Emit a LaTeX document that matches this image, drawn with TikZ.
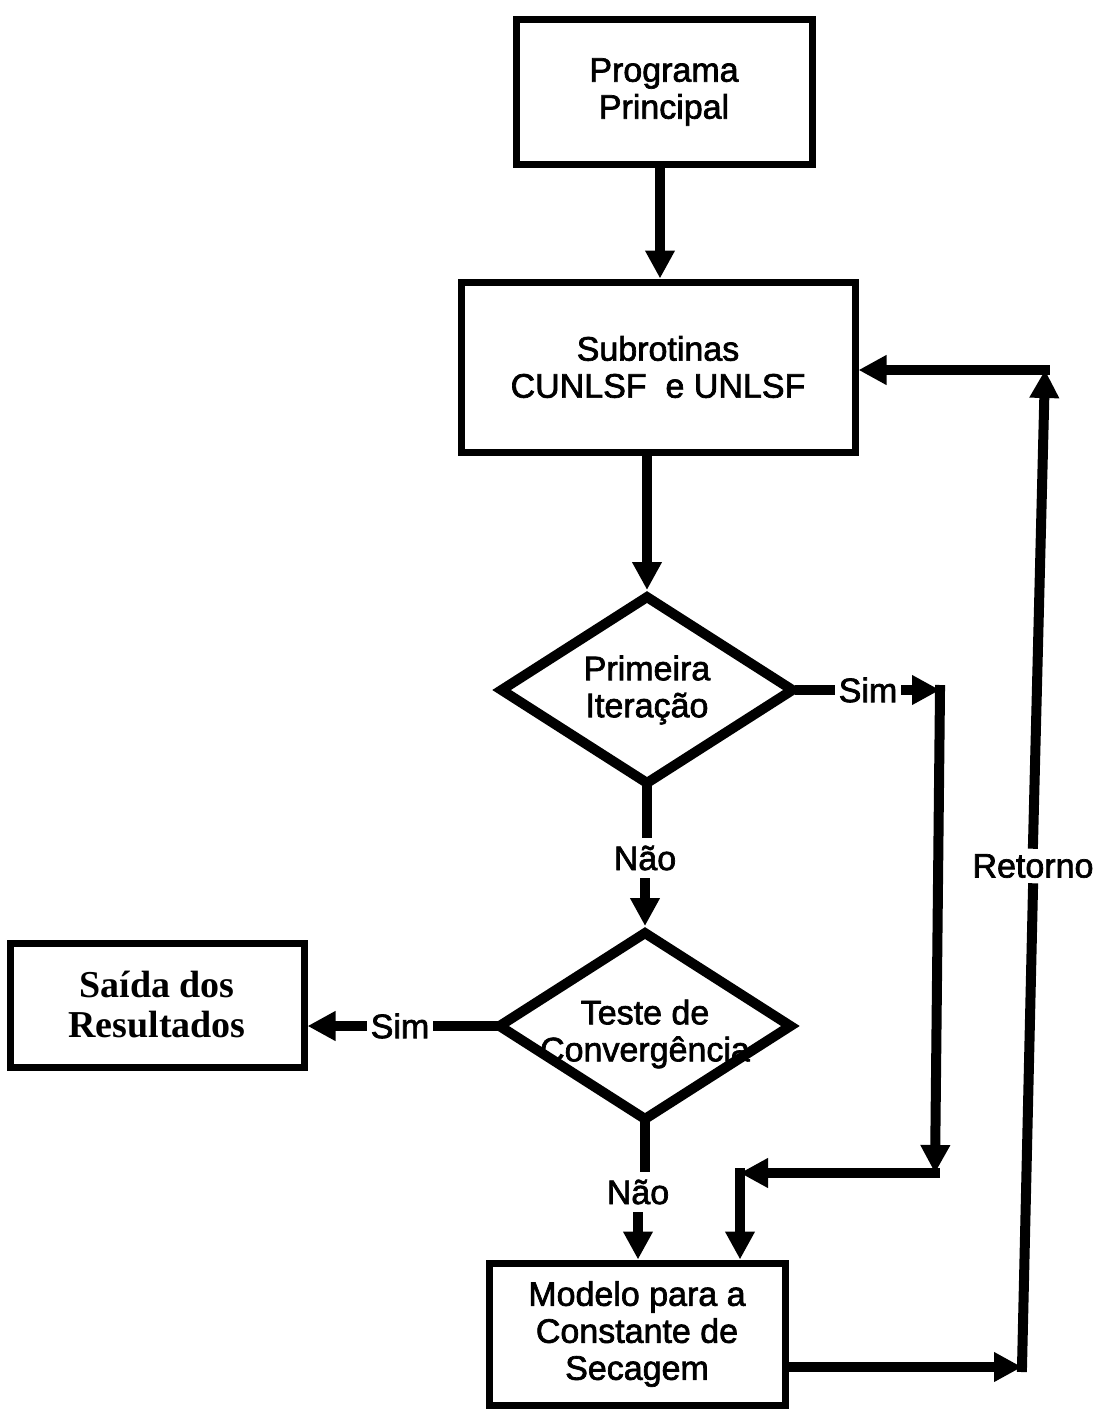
\documentclass[tikz,border=0pt]{standalone}
\usepackage{fontspec}
\setmainfont{Liberation Sans}[FakeBold=2]
\newfontfamily\timesfont{Liberation Serif}
\usetikzlibrary{arrows.meta,shapes.geometric}

\begin{document}
\begin{tikzpicture}[x=0.5pt,y=-0.5pt,
  lbl/.style={font=\fontsize{17}{18.5}\selectfont, align=center},
  box/.style={draw, line width=3.5pt, rectangle, inner sep=0pt, lbl},
  decision/.style={draw, line width=5pt, diamond, inner sep=0pt,
                   minimum width=147.5pt, minimum height=95pt},
  flow/.style={line width=5pt, line cap=rect},
  arr/.style={flow, -{Triangle[length=14pt,width=14pt]}},
  tag/.style={lbl, inner xsep=4pt, inner ysep=6pt},
]
\useasboundingbox (0,0) rectangle (1097,1413);

% process boxes
\node[box, minimum width=148pt, minimum height=72pt] (prog) at (664,92) {Programa\\Principal};
\node[box, minimum width=197pt, minimum height=85pt] (sub) at (658,367) {Subrotinas\\CUNLSF\ \ e UNLSF};
\node[box, minimum width=148pt, minimum height=71pt] (mod) at (637,1334) {Modelo para a\\Constante de\\Secagem};
\node[box, minimum width=147pt, minimum height=62pt,
      font=\timesfont\bfseries\fontsize{19}{20}\selectfont] (out) at (157,1005) {Saída dos\\Resultados};

% decisions
\node[decision] (d1) at (647,690) {};
\node[lbl] (d1txt) at (d1.center) {Primeira\\Iteração};
\node[decision] (d2) at (645,1026) {};
\node[lbl] (d2txt) at ([yshift=-4pt]d2.center) {Teste de\\Convergência};

% branch labels
\node[tag] (sim1) at (868,690) {Sim};
\node[tag] (nao1) at (645,858) {Não};
\node[tag] (sim2) at (400,1026) {Sim};
\node[tag] (nao2) at (638,1192) {Não};
\node[tag, fill=white, inner ysep=5pt] (ret) at (1033,866) {Retorno};

% bends of the return paths
\coordinate (c1) at (940,690);
\coordinate (c2) at (935,1173);
\coordinate (c3) at (740,1173);
\coordinate (c4) at (1022,1367);
\coordinate (c5) at (1045,370);

% main flow
\draw[arr] (prog.south -| 660,0) -- (660,0 |- sub.north);
\draw[arr] (sub.south -| d1.north) -- (d1.north);
\draw[flow] (d1.south) -- (d1.south |- nao1.north);
\draw[arr] (nao1.south -| d2.north) -- (d2.north);
\draw[flow] (d2.south) -- (d2.south |- nao2.north);
\draw[arr] (nao2.south) -- (nao2.south |- mod.north);

% exit on convergence
\draw[flow] (d2.west) -- (d2.west -| sim2.east);
\draw[arr] (sim2.west) -- (sim2.west -| out.east);

% first iteration goes straight to the model
\draw[flow] (d1.east) -- (d1.east -| sim1.west);
\draw[arr] (sim1.east) -- (c1);
\draw[arr] (c1) -- (c2);
\draw[arr] (c2) -- (c3);
\draw[arr] (c3) -- (c3 |- mod.north);

% return loop
\draw[arr] (c4 -| mod.east) -- (c4);
\draw[flow] (c4) -- (ret.south);
\draw[arr] (ret.north) -- (c5);
\draw[arr] (c5) -- (c5 -| sub.east);
\end{tikzpicture}
\end{document}
